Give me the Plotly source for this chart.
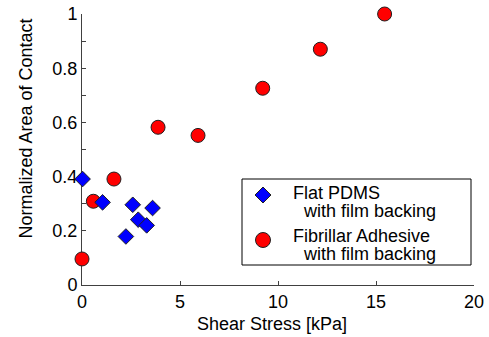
import plotly.graph_objects as go

# Data
flat_x = [0.03, 1.05, 2.59, 3.60, 2.87, 3.30, 2.24]
flat_y = [0.391, 0.305, 0.296, 0.284, 0.241, 0.220, 0.179]

fib_x = [0.0, 0.58, 1.63, 3.88, 5.92, 9.22, 12.16, 15.44]
fib_y = [0.096, 0.309, 0.391, 0.582, 0.552, 0.726, 0.870, 1.0]

flat_label = ["Flat PDMS", "with film backing"]
fib_label = ["Fibrillar Adhesive", "with film backing"]
x_title = "Shear Stress [kPa]"
y_title = "Normalized Area of Contact"

FONT = "Liberation Sans, Arial, sans-serif"
FS = 18
AX = "#404040"
BLUE = "#0000ff"
RED = "#ff0000"
EDGE = "#202020"

W, H = 489, 337
L, R, T, B = 82, 15, 14, 52
PW, PH = W - L - R, H - T - B


def px(xp):
    return (xp - L) / PW


def py(yp):
    return (H - B - yp) / PH


fig = go.Figure()
fig.add_trace(go.Scatter(
    x=fib_x, y=fib_y, mode="markers", name=" ".join(fib_label),
    marker=dict(symbol="circle", size=14, color=RED,
                line=dict(color=EDGE, width=1)),
    cliponaxis=False, showlegend=False,
))
fig.add_trace(go.Scatter(
    x=flat_x, y=flat_y, mode="markers", name=" ".join(flat_label),
    marker=dict(symbol="diamond", size=12, color=BLUE,
                line=dict(color=EDGE, width=1)),
    cliponaxis=False, showlegend=False,
))

# Legend box drawn by hand (tight line spacing as in the reference)
shapes = [
    dict(type="rect", xref="paper", yref="paper",
         x0=px(242), x1=px(471), y0=py(265), y1=py(179),
         line=dict(color="black", width=1), fillcolor="white", layer="above"),
    dict(type="path", xref="paper", yref="paper", xsizemode="pixel", ysizemode="pixel",
         xanchor=px(263), yanchor=py(195),
         path="M -8 0 L 0 8 L 8 0 L 0 -8 Z",
         fillcolor=BLUE, line=dict(color=EDGE, width=1), layer="above"),
    dict(type="circle", xref="paper", yref="paper", xsizemode="pixel", ysizemode="pixel",
         xanchor=px(263), yanchor=py(240), x0=-7.5, x1=7.5, y0=-7.5, y1=7.5,
         fillcolor=RED, line=dict(color=EDGE, width=1), layer="above"),
]

ann = []
for text, xl, ym in [(flat_label[0], 292, 193.3), (flat_label[1], 302, 211.1),
                     (fib_label[0], 292, 235.5), (fib_label[1], 302, 253.8)]:
    ann.append(dict(text=text, xref="paper", yref="paper", x=px(xl), y=py(ym),
                    xanchor="left", yanchor="middle", showarrow=False,
                    borderpad=0, font=dict(family=FONT, size=FS, color="black")))

ann.append(dict(text=x_title, xref="paper", yref="paper", x=px(272), y=py(323.5),
                xanchor="center", yanchor="middle", showarrow=False, borderpad=0,
                font=dict(family=FONT, size=FS, color="black")))
ann.append(dict(text=y_title, xref="paper", yref="paper", x=px(25), y=py(128.5),
                xanchor="center", yanchor="middle", textangle=-90, showarrow=False,
                borderpad=0, font=dict(family=FONT, size=FS, color="black")))

fig.update_layout(
    width=W, height=H,
    margin=dict(l=L, r=R, t=T, b=B, autoexpand=False),
    paper_bgcolor="white", plot_bgcolor="white",
    font=dict(family=FONT, size=FS, color="black"),
    showlegend=False,
    shapes=shapes,
    annotations=ann,
    xaxis=dict(
        range=[0, 20], dtick=5, tick0=0, automargin=False,
        ticks="inside", ticklen=4, tickcolor=AX,
        showline=True, linecolor=AX, linewidth=1,
        showgrid=False, zeroline=False, layer="below traces",
        tickfont=dict(size=FS),
    ),
    yaxis=dict(
        range=[0, 1], dtick=0.2, tick0=0, automargin=False,
        ticks="inside", ticklen=4, tickcolor=AX,
        minor=dict(dtick=0.1, ticks="inside", ticklen=4, tickcolor=AX),
        showline=True, linecolor=AX, linewidth=1,
        showgrid=False, zeroline=False, layer="below traces",
        tickfont=dict(size=FS),
    ),
)

fig.write_html("out.html")
